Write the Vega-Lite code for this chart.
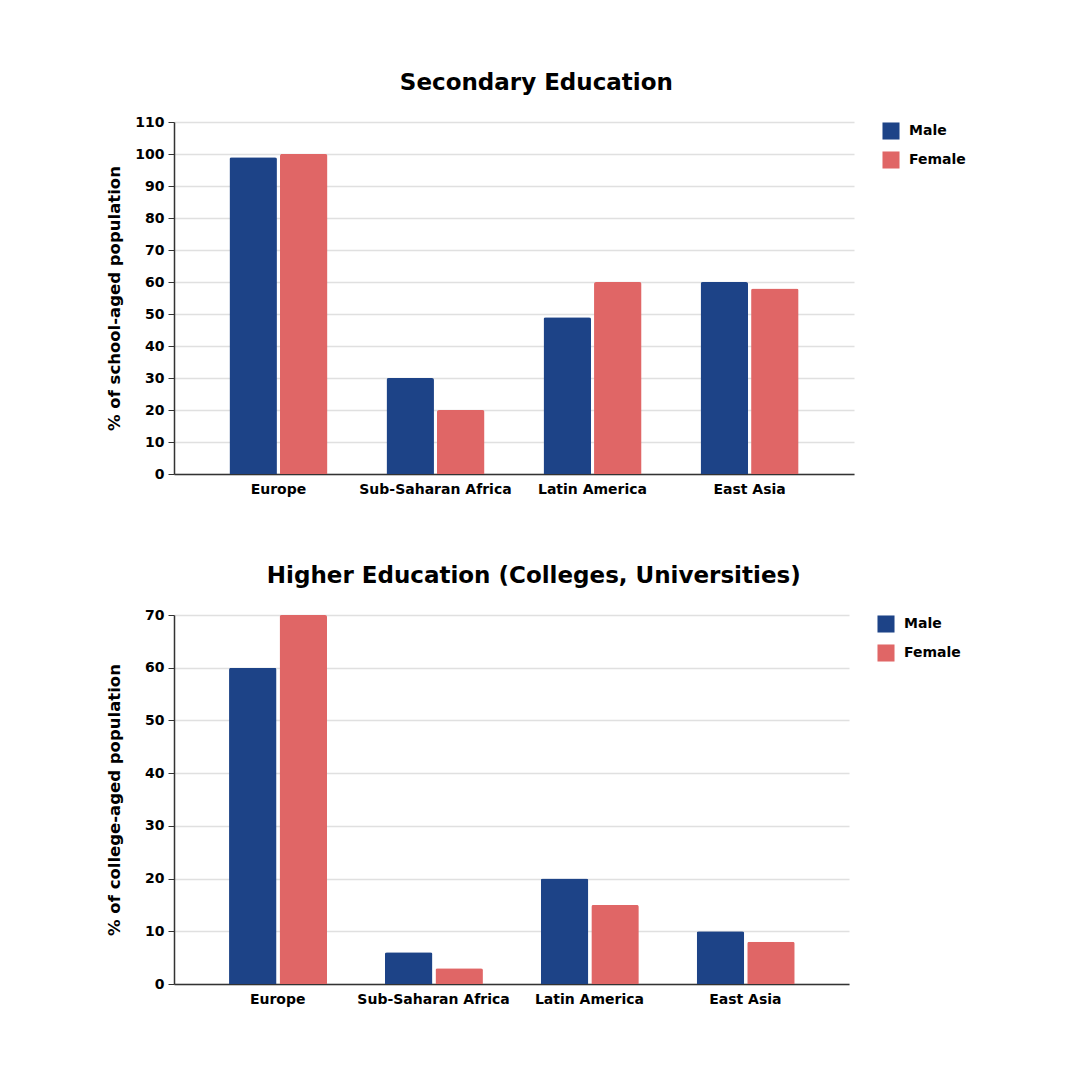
{
  "$schema": "https://vega.github.io/schema/vega-lite/v6.json",
  "background": "white",
  "padding": {"left": 106, "top": 72, "right": 10, "bottom": 10},
  "spacing": 69,
  "config": {
    "font": "DejaVu Sans",
    "view": {"stroke": null},
    "title": {"fontSize": 23, "fontWeight": "bold", "color": "#000000", "anchor": "middle", "frame": "bounds", "offset": 20},
    "axis": {"labelFont": "DejaVu Sans", "labelFontWeight": "bold", "labelFontSize": 14, "labelColor": "#000000", "titleFont": "DejaVu Sans", "titleFontWeight": "bold", "titleFontSize": 16.5, "titleColor": "#000000"},
    "legend": {"labelFont": "DejaVu Sans", "labelFontWeight": "bold", "labelFontSize": 14, "labelColor": "#000000"}
  },
  "datasets": {
    "secondary": [
      {"region": "Europe", "gender": "Male", "value": 99},
      {"region": "Europe", "gender": "Female", "value": 100},
      {"region": "Sub-Saharan Africa", "gender": "Male", "value": 30},
      {"region": "Sub-Saharan Africa", "gender": "Female", "value": 20},
      {"region": "Latin America", "gender": "Male", "value": 49},
      {"region": "Latin America", "gender": "Female", "value": 60},
      {"region": "East Asia", "gender": "Male", "value": 60},
      {"region": "East Asia", "gender": "Female", "value": 58}
    ],
    "higher": [
      {"region": "Europe", "gender": "Male", "value": 60},
      {"region": "Europe", "gender": "Female", "value": 70},
      {"region": "Sub-Saharan Africa", "gender": "Male", "value": 6},
      {"region": "Sub-Saharan Africa", "gender": "Female", "value": 3},
      {"region": "Latin America", "gender": "Male", "value": 20},
      {"region": "Latin America", "gender": "Female", "value": 15},
      {"region": "East Asia", "gender": "Male", "value": 10},
      {"region": "East Asia", "gender": "Female", "value": 8}
    ]
  },
  "resolve": {"legend": {"color": "independent"}, "scale": {"y": "independent"}},
  "vconcat": [
    {
      "title": "Secondary Education",
      "width": 680,
      "height": 352,
      "data": {"name": "secondary"},
      "mark": {"type": "bar", "cornerRadiusTopLeft": 2, "cornerRadiusTopRight": 2},
      "encoding": {
        "x": {"field": "region", "type": "nominal", "sort": ["Europe", "Sub-Saharan Africa", "Latin America", "East Asia"],
              "scale": {"paddingInner": 0.376, "paddingOuter": 0.353},
              "axis": {"title": null, "labelAngle": 0, "ticks": false, "labelPadding": 8, "domainColor": "#333333", "domainWidth": 1.5, "grid": false}},
        "xOffset": {"field": "gender", "type": "nominal", "sort": ["Male", "Female"], "scale": {"paddingInner": 0.06}},
        "y": {"field": "value", "type": "quantitative", "scale": {"domain": [0, 110]},
              "axis": {"title": "% of school-aged population", "values": [0,10,20,30,40,50,60,70,80,90,100,110], "gridColor": "#e0e0e0", "gridWidth": 1.5, "tickColor": "#333333", "tickSize": 6, "domainColor": "#333333", "domainWidth": 1.5, "labelPadding": 4, "titlePadding": 12}},
        "color": {"field": "gender", "type": "nominal", "sort": ["Male", "Female"],
                  "scale": {"domain": ["Male", "Female"], "range": ["#1d4387", "#e06666"]},
                  "legend": {"title": null, "orient": "right", "offset": 28, "symbolType": "square", "symbolSize": 290, "symbolStrokeWidth": 0, "rowPadding": 11, "labelOffset": 9}}
      }
    },
    {
      "title": "Higher Education (Colleges, Universities)",
      "width": 675,
      "height": 369,
      "data": {"name": "higher"},
      "mark": {"type": "bar", "cornerRadiusTopLeft": 2, "cornerRadiusTopRight": 2},
      "encoding": {
        "x": {"field": "region", "type": "nominal", "sort": ["Europe", "Sub-Saharan Africa", "Latin America", "East Asia"],
              "scale": {"paddingInner": 0.376, "paddingOuter": 0.353},
              "axis": {"title": null, "labelAngle": 0, "ticks": false, "labelPadding": 8, "domainColor": "#333333", "domainWidth": 1.5, "grid": false}},
        "xOffset": {"field": "gender", "type": "nominal", "sort": ["Male", "Female"], "scale": {"paddingInner": 0.06}},
        "y": {"field": "value", "type": "quantitative", "scale": {"domain": [0, 70]},
              "axis": {"title": "% of college-aged population", "values": [0,10,20,30,40,50,60,70], "gridColor": "#e0e0e0", "gridWidth": 1.5, "tickColor": "#333333", "tickSize": 6, "domainColor": "#333333", "domainWidth": 1.5, "labelPadding": 4, "titlePadding": 22}},
        "color": {"field": "gender", "type": "nominal", "sort": ["Male", "Female"],
                  "scale": {"domain": ["Male", "Female"], "range": ["#1d4387", "#e06666"]},
                  "legend": {"title": null, "orient": "right", "offset": 28, "symbolType": "square", "symbolSize": 290, "symbolStrokeWidth": 0, "rowPadding": 11, "labelOffset": 9}}
      }
    }
  ]
}
